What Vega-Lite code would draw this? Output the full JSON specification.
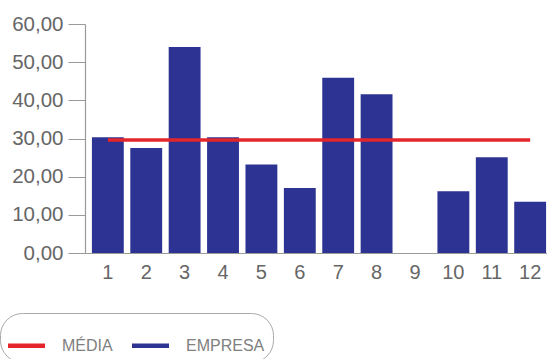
{
  "$schema": "https://vega.github.io/schema/vega-lite/v6.json",
  "width": 468,
  "height": 229,
  "autosize": {"type": "none"},
  "padding": {"left": 85, "top": 24, "right": 0, "bottom": 106},
  "background": "white",
  "config": {
    "view": {"stroke": null},
    "font": "Liberation Sans",
    "axisY": {
      "title": null,
      "values": [0, 10, 20, 30, 40, 50, 60],
      "labelExpr": "replace(format(datum.value, '.2f'), '.', ',')",
      "labelOverlap": false,
      "grid": false,
      "tickSize": 17,
      "tickColor": "#9a9a9a",
      "domainColor": "#9a9a9a",
      "domainWidth": 1.2,
      "labelPadding": 5,
      "labelFontSize": 20.5,
      "labelColor": "#666666"
    }
  },
  "data": {
    "values": [
      {"mes": "1", "empresa": 30.3, "media": 29.6},
      {"mes": "2", "empresa": 27.5, "media": 29.6},
      {"mes": "3", "empresa": 54.0, "media": 29.6},
      {"mes": "4", "empresa": 30.3, "media": 29.6},
      {"mes": "5", "empresa": 23.2, "media": 29.6},
      {"mes": "6", "empresa": 17.0, "media": 29.6},
      {"mes": "7", "empresa": 45.9, "media": 29.6},
      {"mes": "8", "empresa": 41.6, "media": 29.6},
      {"mes": "9", "empresa": null, "media": 29.6},
      {"mes": "10", "empresa": 16.2, "media": 29.6},
      {"mes": "11", "empresa": 25.1, "media": 29.6},
      {"mes": "12", "empresa": 13.4, "media": 29.6}
    ]
  },
  "encoding": {
    "x": {
      "field": "mes",
      "type": "ordinal",
      "sort": null,
      "scale": {
        "domain": ["1", "2", "3", "4", "5", "6", "7", "8", "9", "10", "11", "12"],
        "paddingInner": 0.17,
        "paddingOuter": 0.18
      },
      "axis": {
        "title": null,
        "labelAngle": 0,
        "ticks": false,
        "labelPadding": 9,
        "labelFontSize": 20,
        "labelColor": "#666666",
        "labelOverlap": false,
        "domainColor": "#9a9a9a",
        "domainWidth": 1.2
      }
    }
  },
  "layer": [
    {
      "mark": {"type": "bar", "color": "#2d3393"},
      "encoding": {
        "y": {
          "field": "empresa",
          "type": "quantitative",
          "title": null,
          "scale": {"domain": [0, 60], "nice": false}
        },
        "color": {
          "datum": "EMPRESA",
          "scale": {"domain": ["MÉDIA", "EMPRESA"], "range": ["#e3262b", "#2d3393"]},
          "legend": {
            "orient": "none",
            "legendX": -85,
            "legendY": 289,
            "direction": "horizontal",
            "title": " ",
            "titleFontSize": 1,
            "titlePadding": 5,
            "padding": 8,
            "cornerRadius": 22,
            "strokeColor": "#aaaaaa",
            "symbolType": "M-1,-0.12H1V0.12H-1Z",
            "symbolSize": 1369,
            "symbolStrokeWidth": 0,
            "symbolOpacity": 1,
            "labelOffset": 17,
            "columnPadding": 19,
            "labelFontSize": 16,
            "labelColor": "#808080",
            "labelFont": "Liberation Sans"
          }
        }
      }
    },
    {
      "mark": {"type": "line", "color": "#e3262b", "strokeWidth": 3.5},
      "encoding": {
        "y": {"field": "media", "type": "quantitative", "title": null}
      }
    }
  ]
}
